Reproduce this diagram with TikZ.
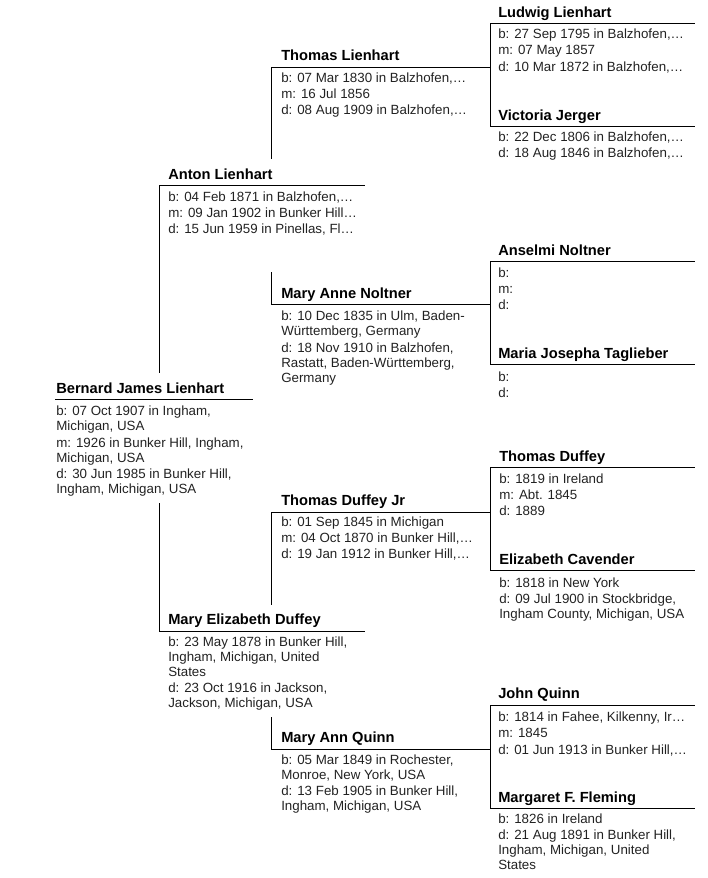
\documentclass[tikz,border=0pt]{standalone}
\usepackage{fontspec}
\setmainfont{Liberation Sans}
\definecolor{txt}{HTML}{222222}
\begin{document}
\begin{tikzpicture}[x=0.75pt,y=-0.75pt,
  nm/.style={anchor=base west,inner sep=0pt,font=\bfseries\fontsize{11}{13}\selectfont,text=black},
  dt/.style={anchor=base west,inner sep=0pt,font=\fontsize{10}{12}\selectfont,text=txt},
  ln/.style={draw=black,line width=0.75pt}]
\useasboundingbox (0,0) rectangle (707,878);
% ---------- line end coordinates ----------
\coordinate (bjL) at (55,399);  \coordinate (bjR) at (253,399);
\coordinate (alL) at (159,185); \coordinate (alR) at (365,185);
\coordinate (meL) at (159,631); \coordinate (meR) at (365,631);
\coordinate (v1a) at (159,373); \coordinate (v1b) at (159,503);
\coordinate (tlL) at (271,67);  \coordinate (tlR) at (490,67);
\coordinate (maL) at (271,304); \coordinate (maR) at (490,304);
\coordinate (tjL) at (271,512); \coordinate (tjR) at (490,512);
\coordinate (mqL) at (271,749); \coordinate (mqR) at (490,749);
\coordinate (v2a) at (271,159); \coordinate (v2b) at (271,272);
\coordinate (v3a) at (271,605); \coordinate (v3b) at (271,717);
\coordinate (luL) at (490,23);  \coordinate (luR) at (695,23);
\coordinate (vjL) at (490,126); \coordinate (vjR) at (695,126);
\coordinate (anL) at (490,261); \coordinate (anR) at (695,261);
\coordinate (mjL) at (490,364); \coordinate (mjR) at (695,364);
\coordinate (tdL) at (490,467); \coordinate (tdR) at (695,467);
\coordinate (ecL) at (490,570); \coordinate (ecR) at (695,570);
\coordinate (jqL) at (490,705); \coordinate (jqR) at (695,705);
\coordinate (mfL) at (490,808); \coordinate (mfR) at (695,808);
% ---------- lines ----------
\draw[ln] (bjL) -- (bjR);
\draw[ln] (alL) -- (alR);
\draw[ln] (meL) -- (meR);
\draw[ln] (alL) -- (v1a);
\draw[ln] (v1b) -- (meL);
\draw[ln] (tlL) -- (tlR);
\draw[ln] (maL) -- (maR);
\draw[ln] (tjL) -- (tjR);
\draw[ln] (mqL) -- (mqR);
\draw[ln] (tlL) -- (v2a);
\draw[ln] (v2b) -- (maL);
\draw[ln] (tjL) -- (v3a);
\draw[ln] (v3b) -- (mqL);
\draw[ln] (luL) -- (luR);
\draw[ln] (vjL) -- (vjR);
\draw[ln] (luL) -- (vjL);
\draw[ln] (anL) -- (anR);
\draw[ln] (mjL) -- (mjR);
\draw[ln] (anL) -- (mjL);
\draw[ln] (tdL) -- (tdR);
\draw[ln] (ecL) -- (ecR);
\draw[ln] (tdL) -- (ecL);
\draw[ln] (jqL) -- (jqR);
\draw[ln] (mfL) -- (mfR);
\draw[ln] (jqL) -- (mfL);
% ---------- Bernard ----------
\node[nm] (bjN) at (56,393) {Bernard James Lienhart};
\node[dt] (bj1) at (56,415) {b: 07 Oct 1907 in Ingham,};
\node[dt] (bj2) at (56,430) {Michigan, USA};
\node[dt] (bj3) at (56,447) {m: 1926 in Bunker Hill, Ingham,};
\node[dt] (bj4) at (56,462) {Michigan, USA};
\node[dt] (bj5) at (56,478) {d: 30 Jun 1985 in Bunker Hill,};
\node[dt] (bj6) at (56,493) {Ingham, Michigan, USA};
% ---------- Anton ----------
\node[nm] (alN) at (168,179) {Anton Lienhart};
\node[dt] (al1) at (168,201) {b: 04 Feb 1871 in Balzhofen,…};
\node[dt] (al2) at (168,217) {m: 09 Jan 1902 in Bunker Hill…};
\node[dt] (al3) at (168,233) {d: 15 Jun 1959 in Pinellas, Fl…};
% ---------- Mary Elizabeth ----------
\node[nm] (meN) at (168,624) {Mary Elizabeth Duffey};
\node[dt] (me1) at (168,646) {b: 23 May 1878 in Bunker Hill,};
\node[dt] (me2) at (168,661) {Ingham, Michigan, United};
\node[dt] (me3) at (168,676) {States};
\node[dt] (me4) at (168,692) {d: 23 Oct 1916 in Jackson,};
\node[dt] (me5) at (168,707) {Jackson, Michigan, USA};
% ---------- Thomas Lienhart ----------
\node[nm] (tlN) at (281,60) {Thomas Lienhart};
\node[dt] (tl1) at (281,82) {b: 07 Mar 1830 in Balzhofen,…};
\node[dt] (tl2) at (281,98) {m: 16 Jul 1856};
\node[dt] (tl3) at (281,114) {d: 08 Aug 1909 in Balzhofen,…};
% ---------- Mary Anne Noltner ----------
\node[nm] (maN) at (281,298) {Mary Anne Noltner};
\node[dt] (ma1) at (281,320) {b: 10 Dec 1835 in Ulm, Baden-};
\node[dt] (ma2) at (281,335) {Württemberg, Germany};
\node[dt] (ma3) at (281,352) {d: 18 Nov 1910 in Balzhofen,};
\node[dt] (ma4) at (281,367) {Rastatt, Baden-Württemberg,};
\node[dt] (ma5) at (281,382) {Germany};
% ---------- Thomas Duffey Jr ----------
\node[nm] (tjN) at (281,505) {Thomas Duffey Jr};
\node[dt] (tj1) at (281,526) {b: 01 Sep 1845 in Michigan};
\node[dt] (tj2) at (281,542) {m: 04 Oct 1870 in Bunker Hill,…};
\node[dt] (tj3) at (281,558) {d: 19 Jan 1912 in Bunker Hill,…};
% ---------- Mary Ann Quinn ----------
\node[nm] (mqN) at (281,742) {Mary Ann Quinn};
\node[dt] (mq1) at (281,764) {b: 05 Mar 1849 in Rochester,};
\node[dt] (mq2) at (281,779) {Monroe, New York, USA};
\node[dt] (mq3) at (281,795) {d: 13 Feb 1905 in Bunker Hill,};
\node[dt] (mq4) at (281,810) {Ingham, Michigan, USA};
% ---------- Ludwig ----------
\node[nm] (luN) at (498,17) {Ludwig Lienhart};
\node[dt] (lu1) at (498,38) {b: 27 Sep 1795 in Balzhofen,…};
\node[dt] (lu2) at (498,54) {m: 07 May 1857};
\node[dt] (lu3) at (498,71) {d: 10 Mar 1872 in Balzhofen,…};
% ---------- Victoria ----------
\node[nm] (vjN) at (498,120) {Victoria Jerger};
\node[dt] (vj1) at (498,141) {b: 22 Dec 1806 in Balzhofen,…};
\node[dt] (vj2) at (498,157) {d: 18 Aug 1846 in Balzhofen,…};
% ---------- Anselmi ----------
\node[nm] (anN) at (498,255) {Anselmi Noltner};
\node[dt] (an1) at (498,277) {b:};
\node[dt] (an2) at (498,293) {m:};
\node[dt] (an3) at (498,309) {d:};
% ---------- Maria Josepha ----------
\node[nm] (mjN) at (498,358) {Maria Josepha Taglieber};
\node[dt] (mj1) at (498,381) {b:};
\node[dt] (mj2) at (498,397) {d:};
% ---------- Thomas Duffey ----------
\node[nm] (tdN) at (499,461) {Thomas Duffey};
\node[dt] (td1) at (499,483) {b: 1819 in Ireland};
\node[dt] (td2) at (499,499) {m: Abt. 1845};
\node[dt] (td3) at (499,515) {d: 1889};
% ---------- Elizabeth Cavender ----------
\node[nm] (ecN) at (499,564) {Elizabeth Cavender};
\node[dt] (ec1) at (499,587) {b: 1818 in New York};
\node[dt] (ec2) at (499,603) {d: 09 Jul 1900 in Stockbridge,};
\node[dt] (ec3) at (499,618) {Ingham County, Michigan, USA};
% ---------- John Quinn ----------
\node[nm] (jqN) at (498,698) {John Quinn};
\node[dt] (jq1) at (498,721) {b: 1814 in Fahee, Kilkenny, Ir…};
\node[dt] (jq2) at (498,737) {m: 1845};
\node[dt] (jq3) at (498,754) {d: 01 Jun 1913 in Bunker Hill,…};
% ---------- Margaret ----------
\node[nm] (mfN) at (498,802) {Margaret F. Fleming};
\node[dt] (mf1) at (498,823) {b: 1826 in Ireland};
\node[dt] (mf2) at (498,839) {d: 21 Aug 1891 in Bunker Hill,};
\node[dt] (mf3) at (498,854) {Ingham, Michigan, United};
\node[dt] (mf4) at (498,869) {States};
\end{tikzpicture}
\end{document}
